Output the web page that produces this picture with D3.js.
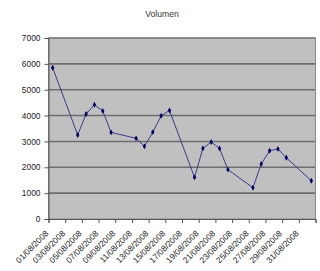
<!DOCTYPE html>
<html><head><meta charset="utf-8">
<script src="https://cdn.jsdelivr.net/npm/d3@7"></script>
<style>body{margin:0;background:#fff}svg{display:block}</style>
</head><body><svg id="c" width="320" height="271"></svg>
<script>
const dates = ["01/08/2008","04/08/2008","05/08/2008","06/08/2008","07/08/2008","08/08/2008",
  "11/08/2008","12/08/2008","13/08/2008","14/08/2008","15/08/2008",
  "18/08/2008","19/08/2008","20/08/2008","21/08/2008","22/08/2008",
  "25/08/2008","26/08/2008","27/08/2008","28/08/2008","29/08/2008","01/09/2008"];
const volumes = [5850,3250,4060,4420,4180,3350,3120,2810,3360,3990,4200,1610,2730,2980,2730,1910,1210,2130,2640,2710,2370,1480];
const yTicks = [0,1000,2000,3000,4000,5000,6000,7000];
const xLabels = ["01/08/2008","03/08/2008","05/08/2008","07/08/2008","09/08/2008","11/08/2008","13/08/2008","15/08/2008",
  "17/08/2008","19/08/2008","21/08/2008","23/08/2008","25/08/2008","27/08/2008","29/08/2008","31/08/2008"];
const title = "Volumen";

const parse = d3.timeParse("%d/%m/%Y");
const svg = d3.select("#c");
const L = 48.5, R = 315.5, T = 38, B = 219;
const x = d3.scaleTime().domain([parse("01/08/2008"), parse("02/09/2008")]).range([L, R]);
const y = d3.scaleLinear().domain([0, 7000]).range([B, T]);
const font = "Liberation Sans, Arial, sans-serif";

svg.append("rect").attr("x", L).attr("y", T).attr("width", R - L).attr("height", B - T).attr("fill", "#c0c0c0");

svg.append("g").selectAll("line").data(yTicks.filter(v => v > 0)).join("line")
  .attr("x1", L).attr("x2", R).attr("y1", d => y(d)).attr("y2", d => y(d))
  .attr("stroke", "#6e6e6e").attr("stroke-width", 1.6);

svg.append("rect").attr("x", L).attr("y", T).attr("width", R - L).attr("height", B - T)
  .attr("fill", "none").attr("stroke", "#8a8a8a").attr("stroke-width", 1);

const yAxis = svg.append("g").attr("transform", `translate(${L},0)`)
  .call(d3.axisLeft(y).tickValues(yTicks).tickSize(4).tickPadding(4).tickFormat(d3.format("d")));
yAxis.select(".domain").attr("stroke", "#555");
yAxis.selectAll(".tick line").attr("stroke", "#555");
yAxis.selectAll("text").attr("font-family", font).attr("font-size", 8.4).attr("fill", "#222");

const tickDates = d3.range(0, 17).map(i => d3.timeDay.offset(parse("01/08/2008"), i * 2));
const xAxis = svg.append("g").attr("transform", `translate(0,${B})`)
  .call(d3.axisBottom(x).tickValues(tickDates).tickSize(4).tickFormat(""));
xAxis.select(".domain").attr("stroke", "#555");
xAxis.selectAll(".tick line").attr("stroke", "#555");

svg.append("g").selectAll("text").data(xLabels).join("text")
  .attr("transform", d => `translate(${x(parse(d)) + 0.5},${B + 15}) rotate(-45)`)
  .attr("text-anchor", "end").attr("font-family", font).attr("font-size", 8.4).attr("fill", "#222")
  .text(d => d);

const pts = dates.map((d, i) => ({ t: d3.timeHour.offset(parse(d), 12), v: volumes[i] }));
svg.append("path").datum(pts)
  .attr("d", d3.line().x(d => x(d.t)).y(d => y(d.v)))
  .attr("fill", "none").attr("stroke", "#3a3a8c").attr("stroke-width", 1);
svg.append("g").selectAll("path").data(pts).join("path")
  .attr("transform", d => `translate(${x(d.t)},${y(d.v)})`)
  .attr("d", d3.symbol(d3.symbolDiamond, 10)())
  .attr("fill", "#000060");

svg.append("text").attr("x", 162).attr("y", 17).attr("text-anchor", "middle")
  .attr("font-family", font).attr("font-size", 8.6).attr("fill", "#333").text(title);
</script></body></html>
